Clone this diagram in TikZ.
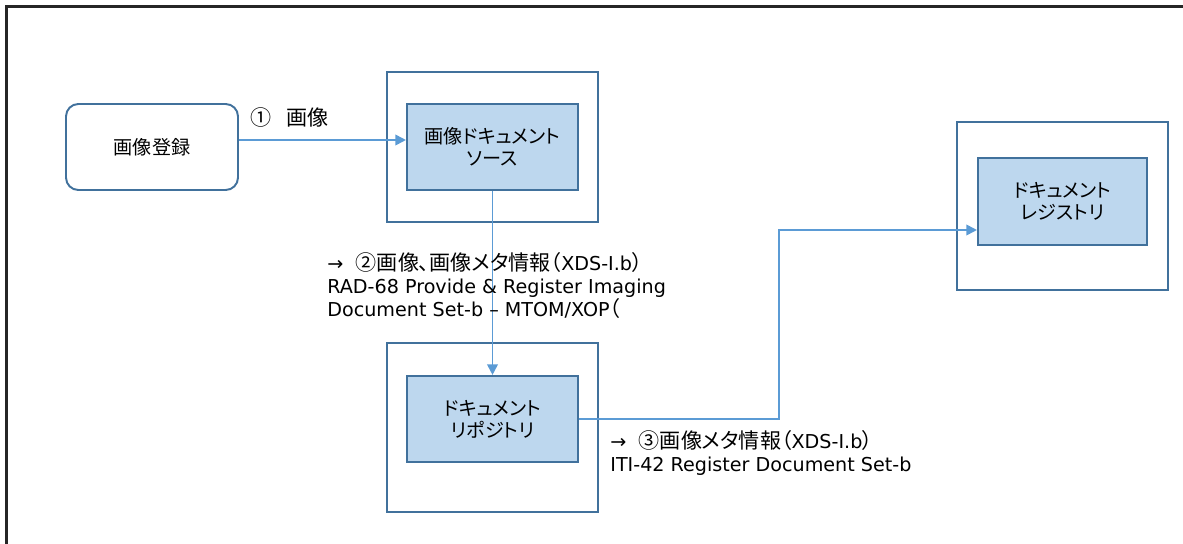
\documentclass[tikz,border=0pt]{standalone}
\usepackage{fontspec}
\setmainfont{DejaVu Sans}
\newfontfamily\jp{Noto Sans CJK JP}[Scale=1.1,CharacterWidth=AlternateProportional]
\usetikzlibrary{arrows.meta, positioning}
\definecolor{linkblue}{HTML}{5B9BD5}
\definecolor{boxfill}{HTML}{BDD7EE}
\definecolor{boxline}{HTML}{41719C}

\begin{document}
\begin{tikzpicture}[x=0.02cm, y=-0.02cm,
  every node/.style={font=\fontsize{9.9}{12.6}\selectfont},
  frame/.style={line width=1.2pt, black!85},
  regbox/.style={draw=boxline, line width=1.1pt, rounded corners=7pt,
    minimum width=3.44cm, minimum height=1.72cm, align=center},
  outerbox/.style={draw=boxline, line width=1.2pt, minimum width=4.22cm},
  innerbox/.style={draw=boxline, line width=1.2pt, fill=boxfill,
    minimum width=3.42cm, minimum height=1.72cm, align=center},
  link/.style={linkblue, line width=1pt, -{Triangle[length=6pt,width=6pt]}},
  note/.style={align=left, inner sep=0pt, anchor=north west,
    font=\fontsize{10.9}{13}\selectfont}]

  \useasboundingbox (0,0) rectangle (1183,544);
  \draw[frame] (6.5,544) -- (6.5,6.5) -- (1183,6.5);

  \node[regbox] (reg) at (152,147) {\jp 画像登録};

  \node[outerbox, minimum height=3.0cm] (src) at (492.5,147) {};
  \node[innerbox] (srcin) at (492.5,147) {\jp 画像ドキュメント\\\jp ソース};

  \node[outerbox, minimum height=3.38cm] (rep) at (492.5,427.5) {};
  \node[innerbox] (repin) at (492.5,419) {\jp ドキュメント\\\jp リポジトリ};

  \node[outerbox, minimum height=3.36cm] (reg2) at (1062.5,206) {};
  \node[innerbox, minimum width=3.38cm, minimum height=1.74cm] (regin) at (1062.5,201.5)
    {\jp ドキュメント\\\jp レジストリ};

  \coordinate (bend) at (779,230);

  \draw[link] ([yshift=0.14cm]reg.east) -- ([yshift=0.14cm]srcin.west);
  \draw[link] (srcin.south) -- (repin.north);
  \draw[link] (repin.east) -| (bend) -- (regin.west |- bend);

  \node[note] (n1) at (250,107) {{\jp ①}\hspace{0.3cm}{\jp 画像}};
  \node[note] (n2) at (327,252) {→\hspace{0.25cm}{\jp ②画像、画像メタ情報（}XDS-I.b{\jp ）}\\
    RAD-68 Provide \& Register Imaging\\
    Document Set-b – MTOM/XOP{\jp （}};
  \node[note] (n3) at (610,430) {→\hspace{0.25cm}{\jp ③画像メタ情報（}XDS-I.b{\jp ）}\\
    ITI-42 Register Document Set-b};
\end{tikzpicture}
\end{document}
